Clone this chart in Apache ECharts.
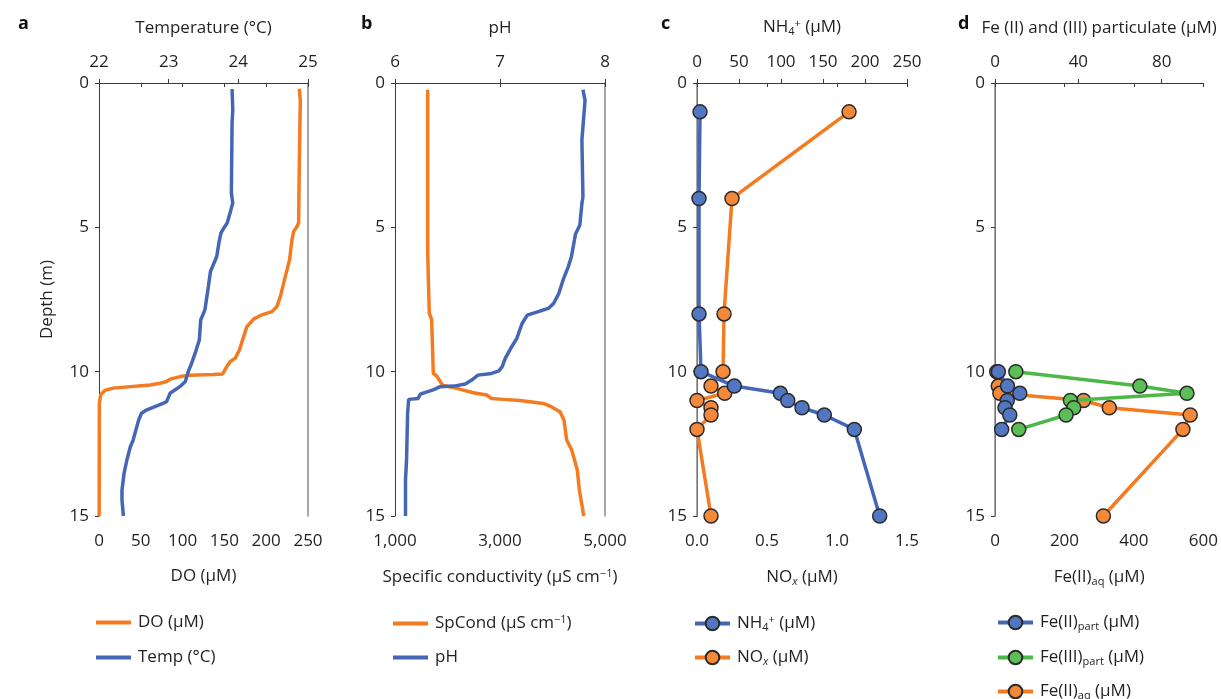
<!DOCTYPE html>
<html><head><meta charset="utf-8">
<script src="https://cdn.jsdelivr.net/npm/echarts@6/dist/echarts.min.js"></script>
<style>html,body{margin:0;padding:0;background:#fff}#c{width:1221px;height:699px}</style>
</head><body><div id="c"></div>
<script>
// ---- Panel a: DO and temperature profiles ----
const depthDO = [0.2,0.6,2.8,4.85,4.97,5.14,5.43,6.12,6.7,7.4,7.74,7.92,8.03,8.18,8.44,8.78,9.25,9.53,9.65,9.82,10.08,10.1,10.12,10.17,10.26,10.34,10.4,10.46,10.57,10.65,10.8,11.1,15];
const DO      = [239.6,240.8,239.6,238.8,236.8,232.9,230.8,228,222.9,216.9,212.9,206.9,194.9,184.9,176.9,173,168,163,157,153,148,137,109,97,85,81,73,61,17,7,2,0.4,0.2];
const depthTemp = [0.21,0.92,1.39,3.81,4.16,4.51,4.85,5.03,5.2,5.55,6.01,6.3,6.53,7.05,7.86,8.21,8.9,9.36,9.71,10.0,10.34,10.52,10.75,11.04,11.12,11.33,11.44,11.67,12.37,12.6,13.06,13.52,14.1,14.45,15];
const temp      = [23.91,23.92,23.91,23.90,23.92,23.88,23.84,23.79,23.75,23.72,23.69,23.64,23.60,23.57,23.52,23.46,23.44,23.38,23.33,23.28,23.24,23.16,23.02,22.97,22.90,22.68,22.61,22.57,22.49,22.45,22.40,22.36,22.33,22.33,22.35];
// ---- Panel b: specific conductivity and pH ----
const depthSp = [0.23,5.68,6.83,7.98,8.2,10.06,10.15,10.47,10.58,10.73,10.81,10.93,10.96,11.0,11.1,11.19,11.39,11.68,12.37,12.71,13.41,14.1,14.9,15];
const spCond  = [1622,1622,1635,1654,1698,1730,1794,1908,2175,2492,2746,2841,3063,3381,3825,3952,4143,4219,4270,4365,4473,4511,4587,4600];
const depthPH = [0.23,0.6,1.98,3.95,4.18,4.93,5.22,6.02,6.37,6.83,7.29,7.64,7.81,7.9,8.04,8.33,8.85,9.14,9.54,9.83,9.97,10.06,10.12,10.29,10.43,10.5,10.52,10.62,10.78,10.93,10.96,11.45,13.06,13.75,15];
const pH      = [7.79,7.81,7.78,7.79,7.78,7.76,7.72,7.68,7.65,7.60,7.56,7.51,7.46,7.38,7.26,7.21,7.16,7.11,7.05,7.02,6.99,6.92,6.79,6.73,6.67,6.56,6.43,6.37,6.24,6.22,6.13,6.12,6.11,6.10,6.10];
// ---- Panel c: nutrients ----
const depthC = [1,4,8,10,10.5,10.75,11,11.25,11.5,12,15];
const NH4    = [3.6,2.4,2.4,4.8,44.4,99.2,108,125,151.6,187.3,217.5];
const NOx    = [1.086,0.25,0.193,0.186,0.10,0.198,0.0,0.10,0.10,0.0,0.10];
// ---- Panel d: iron ----
const depthD   = [10,10.5,10.75,11,11.25,11.5,12];
const FeIIpart = [1.6,6,11.9,5.9,4.8,7.1,3.2];
const FeIIIpart= [10,69.5,92.1,36.2,37.8,34.1,11.4];
const depthFeAq= [10,10.5,10.75,11,11.25,11.5,12,15];
const FeIIaq   = [5,9.5,14,255,329,562,541,312];
// ---- tick labels ----
const depthTicks = [0,5,10,15];
const spTicks = [1000,3000,5000];
const partTicks = [0,40,80];

const FONT = 'Open Sans';
const FS = 17;
const TXT = '#231f20';
const ORANGE = '#f47b20', BLUE = '#4466b5', GREEN = '#4cb848';
const ORANGE_F = '#f5893a', BLUE_F = '#5277c2', GREEN_F = '#5cbf56';
const zip = (xs, ys) => xs.map((x, i) => [x, ys[i]]);

const rich = {
  n:   {fontFamily: FONT, fontSize: FS, color: TXT},
  sub: {fontFamily: FONT, fontSize: 11, color: TXT, padding: [8,0,0,0]},
  sup: {fontFamily: FONT, fontSize: 11, color: TXT, padding: [0,0,8,0]},
  isub:{fontFamily: FONT, fontSize: 11, color: TXT, fontStyle: 'italic', padding: [8,0,0,0]}
};

const grids = [
  {left: 99, top: 83, width: 209, height: 433},
  {left: 395, top: 83, width: 210, height: 433},
  {left: 697, top: 83, width: 210, height: 433},
  {left: 995, top: 83, width: 210, height: 433}
];

const axisLine = {show: true, lineStyle: {color: '#3a3a3a', width: 1}};
const tick = {show: true, inside: false, length: 4, lineStyle: {color: '#3a3a3a'}};
const lbl = {color: TXT, fontFamily: FONT, fontSize: FS};

function xAx(grid, pos, min, max, interval, name, extra) {
  const o = {
    type: 'value', gridIndex: grid, position: pos, min, max, interval,
    name, nameLocation: 'middle', nameGap: pos === 'top' ? 46 : 52,
    nameTextStyle: {color: TXT, fontFamily: FONT, fontSize: FS, rich},
    axisLine, axisTick: tick, splitLine: {show: false},
    axisLabel: Object.assign({}, lbl, {margin: pos === 'top' ? 12 : 17})
  };
  return Object.assign(o, extra || {});
}
function yAx(grid, pos, withName) {
  if (pos === 'right') {
    return {type: 'value', gridIndex: grid, position: 'right', min: 0, max: 15, inverse: true,
      axisLine: {show: true, lineStyle: {color: '#8a8a8a', width: 1.5}},
      axisTick: {show: false}, axisLabel: {show: false}, splitLine: {show: false}};
  }
  return {type: 'value', gridIndex: grid, position: 'left', min: 0, max: 15, interval: 5, inverse: true,
    name: withName ? 'Depth (m)' : '', nameLocation: 'middle', nameGap: 43,
    nameTextStyle: {color: TXT, fontFamily: FONT, fontSize: FS},
    axisLine, axisTick: Object.assign({}, tick, {customValues: depthTicks}),
    axisLabel: Object.assign({}, lbl, {margin: 10, customValues: depthTicks}),
    splitLine: {show: false}};
}

const xAxis = [
  xAx(0, 'bottom', 0, 250, 50, 'DO (µM)'),
  xAx(0, 'top', 22, 25, 1, 'Temperature (°C)'),
  xAx(1, 'bottom', 1000, 5000, 2000, '{n|Specific conductivity (µS cm}{sup|−1}{n|)}', {
    axisTick: Object.assign({}, tick, {customValues: spTicks}),
    axisLabel: Object.assign({}, lbl, {margin: 17, customValues: spTicks,
      formatter: v => v.toLocaleString('en-US')})
  }),
  xAx(1, 'top', 6, 8, 1, 'pH'),
  xAx(2, 'bottom', 0, 1.5, 0.5, '{n|NO}{isub|x}{n| (µM)}', {
    axisLabel: Object.assign({}, lbl, {margin: 17, formatter: v => v.toFixed(1)})
  }),
  xAx(2, 'top', 0, 250, 50, '{n|NH}{sub|4}{sup|+}{n| (µM)}'),
  xAx(3, 'bottom', 0, 600, 200, '{n|Fe(II)}{sub|aq}{n| (µM)}'),
  xAx(3, 'top', 0, 100, 40, 'Fe (II) and (III) particulate (µM)', {
    axisTick: Object.assign({}, tick, {customValues: partTicks}),
    axisLabel: Object.assign({}, lbl, {margin: 12, customValues: partTicks})
  })
];
const yAxis = [yAx(0,'left',true), yAx(0,'right'), yAx(1,'left'), yAx(1,'right'),
               yAx(2,'left'), yAx(2,'right'), yAx(3,'left'), yAx(3,'right')];

function lineS(name, xi, yi, data, color, z) {
  return {name, type: 'line', xAxisIndex: xi, yAxisIndex: yi, data, symbol: 'none',
    lineStyle: {color, width: 3.5}, itemStyle: {color}, z: z || 2, animation: false};
}
function markS(name, xi, yi, data, color, fill, z) {
  return {name, type: 'line', xAxisIndex: xi, yAxisIndex: yi, data, symbol: 'circle', symbolSize: 14,
    lineStyle: {color, width: 3.5}, itemStyle: {color: fill, borderColor: '#2b2b2b', borderWidth: 1.5},
    z: z || 2, animation: false};
}

const series = [
  lineS('DO (µM)', 0, 0, zip(DO, depthDO), ORANGE),
  lineS('Temp (°C)', 1, 0, zip(temp, depthTemp), BLUE),
  lineS('SpCond (µS cm−1)', 2, 2, zip(spCond, depthSp), ORANGE),
  lineS('pH', 3, 2, zip(pH, depthPH), BLUE, 3),
  markS('NOx (µM)', 4, 4, zip(NOx, depthC), ORANGE, ORANGE_F, 2),
  markS('NH4+ (µM)', 5, 4, zip(NH4, depthC), BLUE, BLUE_F, 3),
  markS('Fe(II)aq (µM)', 6, 6, zip(FeIIaq, depthFeAq), ORANGE, ORANGE_F, 2),
  markS('Fe(III)part (µM)', 7, 6, zip(FeIIIpart, depthD), GREEN, GREEN_F, 3),
  markS('Fe(II)part (µM)', 7, 6, zip(FeIIpart, depthD), BLUE, BLUE_F, 4)
];

const legendFmt = {
  'DO (µM)': '{n|DO (µM)}',
  'Temp (°C)': '{n|Temp (°C)}',
  'SpCond (µS cm−1)': '{n|SpCond (µS cm}{sup|−1}{n|)}',
  'pH': '{n|pH}',
  'NH4+ (µM)': '{n|NH}{sub|4}{sup|+}{n| (µM)}',
  'NOx (µM)': '{n|NO}{isub|x}{n| (µM)}',
  'Fe(II)part (µM)': '{n|Fe(II)}{sub|part}{n| (µM)}',
  'Fe(III)part (µM)': '{n|Fe(III)}{sub|part}{n| (µM)}',
  'Fe(II)aq (µM)': '{n|Fe(II)}{sub|aq}{n| (µM)}'
};
// one legend per entry so each row sits at its own height
function leg(left, cy, name, plain) {
  const h = plain ? 4 : 17;
  const o = {left, top: cy - 7, height: 22, orient: 'vertical', padding: 0,
    itemWidth: 35, itemHeight: h, data: [name], formatter: n => legendFmt[n],
    textStyle: {color: TXT, fontFamily: FONT, fontSize: FS, rich, padding: [0,0,0,2]},
    lineStyle: {width: 4}, selectedMode: false};
  if (plain) o.icon = 'rect';
  return o;
}
const legend = [
  leg(96, 621, 'DO (µM)', true), leg(96, 656, 'Temp (°C)', true),
  leg(393, 621, 'SpCond (µS cm−1)', true), leg(393, 656, 'pH', true),
  leg(693, 621, 'NH4+ (µM)'), leg(693, 656, 'NOx (µM)'),
  leg(996, 621, 'Fe(II)part (µM)'), leg(996, 656, 'Fe(III)part (µM)'), leg(996, 690, 'Fe(II)aq (µM)')
];

const letter = (t, x) => ({text: t, left: x, top: 10,
  textStyle: {fontFamily: FONT, fontWeight: 'bold', fontSize: 18, color: '#111'}});
const title = [letter('a', 13), letter('b', 356), letter('c', 656), letter('d', 953)];

const chart = echarts.init(document.getElementById('c'), null, {renderer: 'canvas'});
chart.setOption({animation: false, backgroundColor: '#fff', title, legend, grid: grids, xAxis, yAxis, series});
</script></body></html>
